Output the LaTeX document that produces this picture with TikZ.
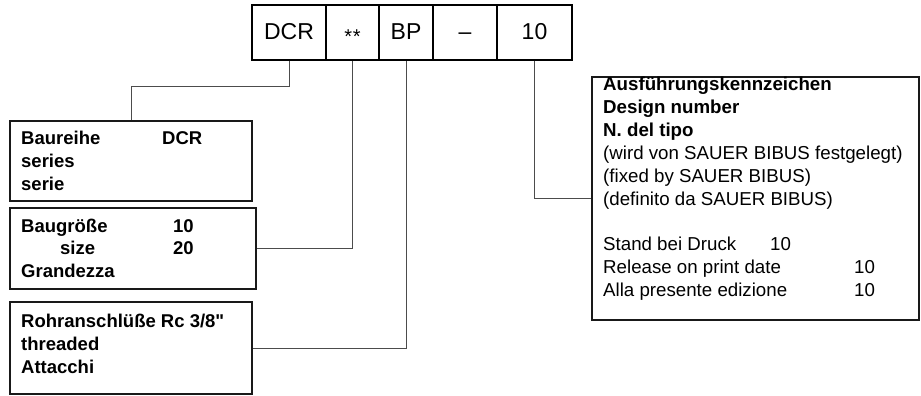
\documentclass[tikz,border=0pt]{standalone}
\usepackage{fontspec}
\setmainfont{Liberation Sans}
\newfontfamily\qfont{Liberation Sans}
\begin{document}
\begin{tikzpicture}[x=1pt,y=-1pt,
  topbox/.style={draw=black,line width=1.4pt,inner sep=0pt,minimum height=55pt},
  leftbox/.style={draw=black!90,line width=1.8pt,inner sep=0pt},
  conn/.style={draw=black!70,line width=0.9pt},
  toptext/.style={font=\fontsize{23}{23}\selectfont,anchor=base,inner sep=0pt},
  bt/.style={font=\fontsize{18.5}{18.5}\selectfont\bfseries,anchor=base west,inner sep=0pt},
  rt/.style={font=\fontsize{18.7}{18.7}\selectfont,anchor=base west,inner sep=0pt},
  rtb/.style={font=\fontsize{18.7}{18.7}\selectfont\bfseries,anchor=base west,inner sep=0pt}]
\useasboundingbox (0,0) rectangle (921,396);
% top code boxes
\node[topbox,minimum width=74pt] (t1) at (289,32.5) {};
\node[topbox,minimum width=53pt] (t2) at (352.5,32.5) {};
\node[topbox,minimum width=54pt] (t3) at (406,32.5) {};
\node[topbox,minimum width=64pt] (t4) at (465,32.5) {};
\node[topbox,minimum width=75pt] (t5) at (534.5,32.5) {};
\node[toptext] (l1) at (289,40) {DCR};
\node[toptext,font=\fontsize{20}{20}\selectfont] (l2) at (352.5,44) {*\kern0.5pt*};
\node[toptext] (l3) at (406,40) {BP};
\node[toptext] (l4) at (465,40) {–};
\node[toptext] (l5) at (534.5,40) {10};
% left boxes
\node[leftbox,minimum width=242pt,minimum height=80pt] (b1) at (131,161) {};
\node[leftbox,minimum width=246pt,minimum height=81pt] (b2) at (133,248.5) {};
\node[leftbox,minimum width=242pt,minimum height=92pt] (b3) at (131,348) {};
\node[bt] (b1a) at (21,144) {Baureihe};
\node[bt] (b1d) at (162,144) {DCR};
\node[bt] (b1b) at (21,167) {series};
\node[bt] (b1c) at (21,190) {serie};
\node[bt] (b2a) at (21,232) {Baugröße};
\node[bt] (b2d) at (173,232) {10};
\node[bt] (b2b) at (60,254.5) {size};
\node[bt] (b2e) at (173,254.5) {20};
\node[bt] (b2c) at (21,277) {Grandezza};
\node[bt] (b3a) at (21,327) {Rohranschlüße Rc 3/8{\qfont\bfseries "}};
\node[bt] (b3b) at (21,350) {threaded};
\node[bt] (b3c) at (21,373) {Attacchi};
% right box
\node[leftbox,minimum width=327pt,minimum height=243pt] (rb) at (755.5,198.5) {};
\node[rtb] (r1) at (603,91) {Ausführungskennzeichen};
\node[rtb] (r2) at (603,113.8) {Design number};
\node[rtb] (r3) at (603,136.6) {N. del tipo};
\node[rt] (r4) at (603,159.4) {(wird von SAUER BIBUS festgelegt)};
\node[rt] (r5) at (603,182.2) {(fixed by SAUER BIBUS)};
\node[rt] (r6) at (603,205) {(definito da SAUER BIBUS)};
\node[rt] (r8) at (603,250.6) {Stand bei Druck};
\node[rt] (r8n) at (770,250.6) {10};
\node[rt] (r9) at (603,273.4) {Release on print date};
\node[rt] (r9n) at (854,273.4) {10};
\node[rt] (r10) at (603,296.2) {Alla presente edizione};
\node[rt] (r10n) at (854,296.2) {10};
% connectors
\draw[conn] (t1.south) -- ++(0,26) -| (b1.north);
\draw[conn] (b2.east) -| (t2.south);
\draw[conn] (b3.east) -| (t3.south);
\draw[conn] (t5.south) |- (rb.west);
\end{tikzpicture}
\end{document}
